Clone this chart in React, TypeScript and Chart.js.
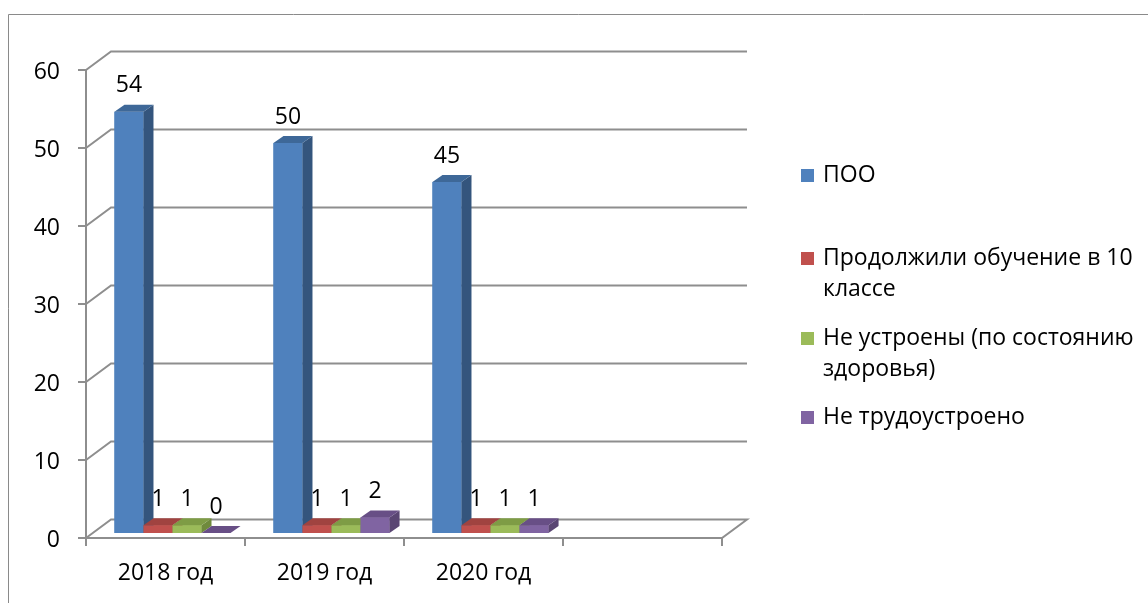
import React, { useEffect, useRef } from "react";
import { Chart, registerables } from "chart.js";

Chart.register(...registerables);

const categories = ["2018 год", "2019 год", "2020 год", ""];
const pooValues = [54, 50, 45, null];
const continuedValues = [1, 1, 1, null];
const notPlacedHealthValues = [1, 1, 1, null];
const unemployedValues = [0, 2, 1, null];

const seriesNames = [
  "ПОО",
  "Продолжили обучение в 10 классе",
  "Не устроены (по состоянию здоровья)",
  "Не трудоустроено",
];
const legendLines = [
  ["ПОО"],
  ["Продолжили обучение в 10", "классе"],
  ["Не устроены (по состоянию", "здоровья)"],
  ["Не трудоустроено"],
];
const frontColors = ["#4f81bd", "#c0504d", "#9bbb59", "#8064a2"];
const sideColors = ["#34557d", "#8a3937", "#6f8a3c", "#5a4673"];
const topColors = ["#3e6898", "#a04340", "#7e9c45", "#684f86"];

const FONT = "23px 'Open Sans', 'Noto Sans', sans-serif";
const GRID = "#8e8e8e";
const FX = -7; // bar plane -> front plane
const FY = 5;
const BDX = 25; // front -> back wall
const BDY = -18.5;
const DDX = 10; // bar depth
const DDY = -7;

const threeD = {
  id: "threeD",
  beforeDatasetsDraw(chart: any) {
    const { ctx, chartArea, scales } = chart;
    const x = scales.x;
    const y = scales.y;
    const fl = chartArea.left + FX;
    const fr = chartArea.right + FX;
    const f0 = y.getPixelForValue(0) + FY;
    ctx.save();
    // outer frame
    ctx.strokeStyle = "#8a8a8a";
    ctx.lineWidth = 1;
    ctx.beginPath();
    ctx.moveTo(8.5, chart.height);
    ctx.lineTo(8.5, 14.5);
    ctx.lineTo(chart.width, 14.5);
    ctx.stroke();

    ctx.strokeStyle = GRID;
    ctx.lineWidth = 2;
    ctx.font = FONT;
    ctx.fillStyle = "#000";
    ctx.textAlign = "right";
    ctx.textBaseline = "middle";
    let topY = f0;
    for (const t of y.ticks) {
      const fy = Math.round(y.getPixelForValue(t.value) + FY);
      if (fy < topY) topY = fy;
      ctx.beginPath();
      ctx.moveTo(fl, fy);
      ctx.lineTo(fl + BDX, fy + BDY);
      ctx.lineTo(fr + BDX, fy + BDY);
      if (t.value === 0) {
        ctx.lineTo(fr, fy);
        ctx.lineTo(fl, fy);
      }
      ctx.stroke();
      ctx.beginPath();
      ctx.moveTo(fl - 8, fy);
      ctx.lineTo(fl, fy);
      ctx.stroke();
      ctx.fillText(String(t.value), fl - 26, fy + 2);
    }
    ctx.beginPath();
    ctx.moveTo(fl, topY);
    ctx.lineTo(fl, f0 + 8);
    ctx.stroke();
    const n = categories.length;
    ctx.textAlign = "center";
    for (let i = 0; i <= n; i++) {
      const px = Math.round(x.getPixelForValue(i - 0.5) + FX);
      ctx.beginPath();
      ctx.moveTo(px, f0);
      ctx.lineTo(px, f0 + 8);
      ctx.stroke();
    }
    for (let i = 0; i < n; i++) {
      const cx = x.getPixelForValue(i) + FX;
      ctx.fillText(categories[i], cx, 573);
    }
    ctx.restore();
  },
  afterDatasetsDraw(chart: any) {
    const { ctx } = chart;
    ctx.save();
    const labels: any[] = [];
    chart.data.datasets.forEach((ds: any, di: number) => {
      const meta = chart.getDatasetMeta(di);
      meta.data.forEach((el: any, i: number) => {
        const v = ds.data[i];
        if (v === null || v === undefined) return;
        const p = el.getProps(["x", "y", "base", "width"], true);
        const l = p.x - p.width / 2;
        const r = p.x + p.width / 2;
        const top = p.y;
        const base = p.base;
        ctx.fillStyle = frontColors[di];
        ctx.fillRect(l, top, r - l, base - top);
        ctx.fillStyle = sideColors[di];
        ctx.beginPath();
        ctx.moveTo(r, top);
        ctx.lineTo(r + DDX, top + DDY);
        ctx.lineTo(r + DDX, base + DDY);
        ctx.lineTo(r, base);
        ctx.closePath();
        ctx.fill();
        ctx.fillStyle = topColors[di];
        ctx.beginPath();
        ctx.moveTo(l, top);
        ctx.lineTo(r, top);
        ctx.lineTo(r + DDX, top + DDY);
        ctx.lineTo(l + DDX, top + DDY);
        ctx.closePath();
        ctx.fill();
        labels.push([String(v), p.x, top - 26]);
      });
    });
    ctx.font = FONT;
    ctx.fillStyle = "#000";
    ctx.textAlign = "center";
    ctx.textBaseline = "middle";
    for (const [t, lx, ly] of labels) ctx.fillText(t, lx, ly);
    ctx.restore();
  },
  afterDraw(chart: any) {
    const { ctx } = chart;
    ctx.save();
    ctx.font = FONT;
    ctx.textAlign = "left";
    ctx.textBaseline = "middle";
    const rowY = [175, 258, 338, 417];
    legendLines.forEach((lines, i) => {
      ctx.fillStyle = frontColors[i];
      ctx.fillRect(801, rowY[i] - 6, 13, 13);
      ctx.fillStyle = "#000";
      lines.forEach((ln, j) => ctx.fillText(ln, 823, rowY[i] + j * 31));
    });
    ctx.restore();
  },
};

export default function App() {
  const ref = useRef<HTMLCanvasElement>(null);
  useEffect(() => {
    document.body.style.margin = "0";
    const chart = new Chart(ref.current as HTMLCanvasElement, {
      type: "bar",
      data: {
        labels: categories,
        datasets: [pooValues, continuedValues, notPlacedHealthValues, unemployedValues].map(
          (d, i) => ({
            label: seriesNames[i],
            data: d,
            backgroundColor: frontColors[i],
            borderWidth: 0,
            categoryPercentage: 0.73,
            barPercentage: 1,
          })
        ),
      },
      options: {
        animation: false,
        responsive: false,
        layout: { padding: { left: 93, right: 419, top: 65, bottom: 70 } },
        plugins: { legend: { display: false }, tooltip: { enabled: false } },
        scales: {
          x: { display: false },
          y: { display: false, min: 0, max: 60, ticks: { stepSize: 10 } },
        },
      },
      plugins: [threeD],
    });
    return () => chart.destroy();
  }, []);
  return (
    <div style={{ position: "fixed", left: 0, top: 0, width: 1148, height: 603, background: "#fff" }}>
      <canvas ref={ref} width={1148} height={603} />
    </div>
  );
}
